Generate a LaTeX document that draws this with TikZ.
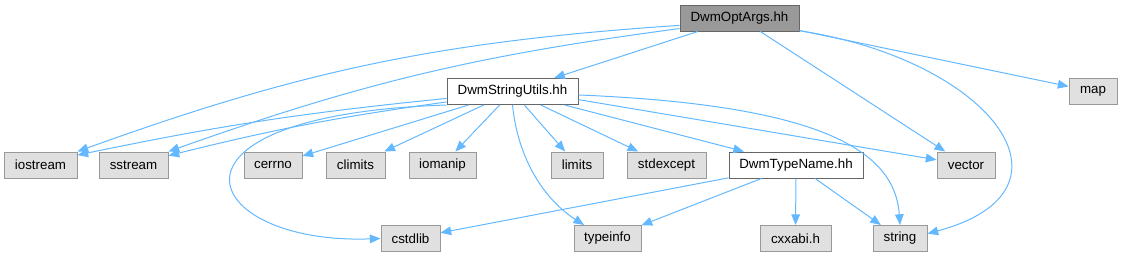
\documentclass[tikz,border=0pt]{standalone}
\usepackage{fontspec}
\setmainfont{Liberation Sans}
\usetikzlibrary{arrows.meta}
\definecolor{edgeblue}{HTML}{63B8FF}
\definecolor{leafgrey}{HTML}{E0E0E0}
\definecolor{leafline}{HTML}{999999}
\definecolor{rootgrey}{HTML}{999999}
\definecolor{darkline}{HTML}{666666}
\begin{document}
\begin{tikzpicture}[x=0.75pt,y=-0.75pt,font=\fontsize{10}{12}\selectfont,
  box/.style={draw=leafline,fill=leafgrey,line width=0.75pt,inner sep=0pt,minimum height=19.5pt},
  boxw/.style={minimum width=#1*0.75pt},
  inc/.style={draw=edgeblue,line width=0.75pt,-{Triangle[length=8pt,width=6.5pt]}}]
\useasboundingbox (0,0) rectangle (1122,257);
\node[box,boxw=119,fill=rootgrey,draw=darkline] (opt) at (739.5,18) {DwmOptArgs.hh};
\node[box,boxw=131,fill=white,draw=darkline] (su) at (512.5,91.5) {DwmStringUtils.hh};
\node[box,boxw=48] (map) at (1093,91.5) {map};
\node[box,boxw=134,fill=white,draw=darkline] (tn) at (796,165) {DwmTypeName.hh};
\foreach \name/\x/\w in {iostream/40.5/73, sstream/133.5/69, cerrno/273/58, climits/355.5/59, iomanip/442.5/67, limits/577/52, stdexcept/666.5/79, vector/966/58}
  \node[box,boxw=\w] (\name) at (\x,165) {\name};
\foreach \name/\txt/\x/\w in {cstdlib/cstdlib/410.5/59, typeinfo/typeinfo/607.5/67, cxxabi/cxxabi.h/795.5/71, string/string/900/54}
  \node[box,boxw=\w] (\name) at (\x,238.5) {\txt};
\draw[inc] (opt) -- (su);
\draw[inc] (opt.187) to[bend right=8] (iostream.north east);
\draw[inc] (opt.190) to[bend right=6] (sstream.north east);
\draw[inc] (opt) -- (vector);
\draw[inc] (opt) -- (map);
\draw[inc] (opt.-12) .. controls (990,60) and (1090,190) .. (string.10);
\draw[inc] (su.186) to[bend right=3] (iostream.15);
\draw[inc] (su.189) to[bend right=3] (sstream.15);
\foreach \leaf in {cerrno,climits,iomanip,limits,stdexcept,tn}
  \draw[inc] (su) -- (\leaf);
\draw[inc] (su.-7) -- (vector.170);
\draw[inc] (su.-3) .. controls (820,105) and (895,150) .. (string.north);
\draw[inc] (su.south west) .. controls (140,115) and (200,245) .. (cstdlib.west);
\draw[inc] (su.south) .. controls (518,160) and (545,200) .. (typeinfo.150);
\foreach \leaf in {cstdlib,typeinfo,cxxabi,string}
  \draw[inc] (tn) -- (\leaf);
\end{tikzpicture}
\end{document}
